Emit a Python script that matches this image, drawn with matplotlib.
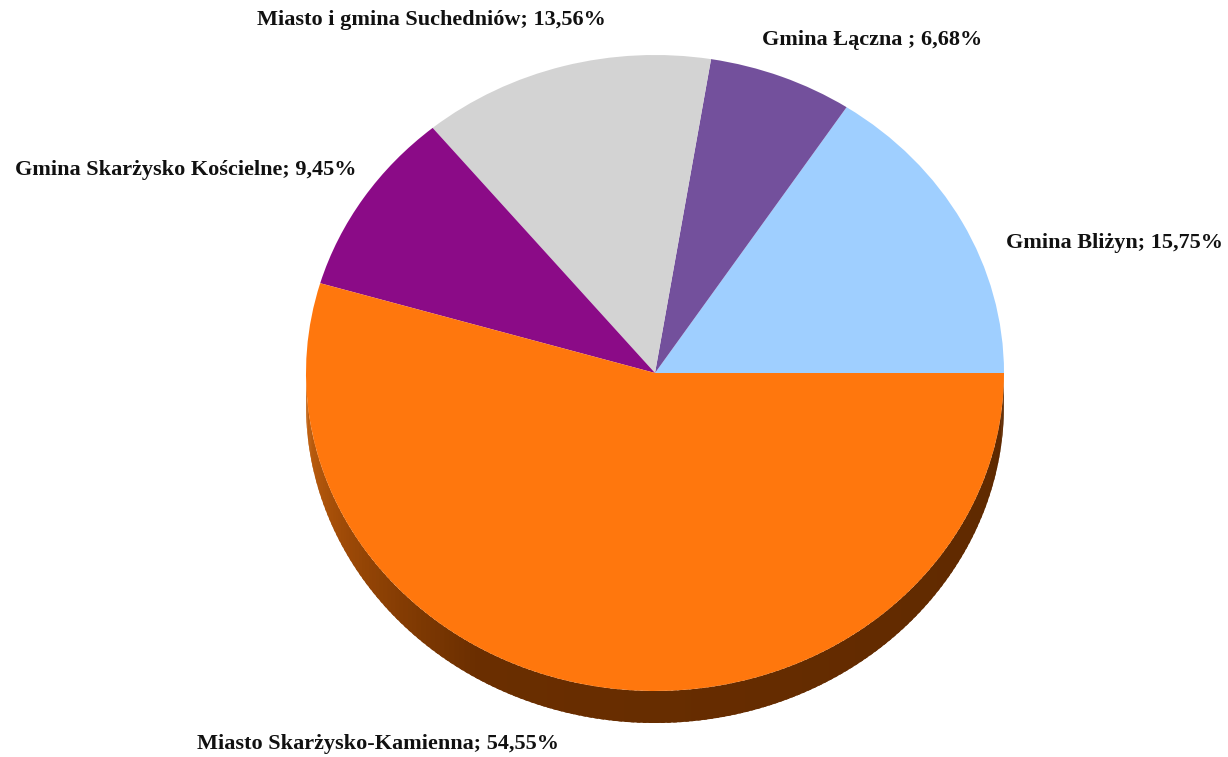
import numpy as np
import matplotlib
matplotlib.use("Agg")
import matplotlib.pyplot as plt
from matplotlib.patches import Polygon
from matplotlib.colors import to_rgb

# ---- data ----
labels = ["Gmina Bliżyn", "Gmina Łączna ", "Miasto i gmina Suchedniów",
          "Gmina Skarżysko Kościelne", "Miasto Skarżysko-Kamienna"]
values = [15.75, 6.68, 13.56, 9.45, 54.55]
value_texts = ["15,75%", "6,68%", "13,56%", "9,45%", "54,55%"]
colors = ["#9FCFFF", "#73509C", "#D3D3D3", "#8B0B87", "#FF770D"]

W, H = 1228, 757
fig = plt.figure(figsize=(W / 100, H / 100), dpi=100)
ax = fig.add_axes([0, 0, 1, 1])
ax.axis("off")

# pixel geometry of the pie
cx, cy = 655, 373          # centre (pixels from top-left)
rx, ry = 349, 318          # radii in px
depth = 32                  # extrusion depth in px

wedges, _ = ax.pie(values, colors=colors, startangle=0, counterclock=True,
                   radius=1, center=(0, 0), wedgeprops=dict(linewidth=0))
for w in wedges:
    w.set_zorder(3)
ax.set_aspect("auto")
ax.set_xlim(-cx / rx, (W - cx) / rx)
ax.set_ylim(-(H - cy) / ry, cy / ry)

# 3D side of the pie (visible lower half, belongs to the big slice)
d = depth / ry
stops = [(180, "#C96511"), (210, "#9A4806"), (240, "#6A2E00"), (360, "#5E2900")]
def side_color(a):
    for (a0, c0), (a1, c1) in zip(stops[:-1], stops[1:]):
        if a0 <= a <= a1:
            t = (a - a0) / (a1 - a0)
            return tuple((1 - t) * np.array(to_rgb(c0)) + t * np.array(to_rgb(c1)))
    return to_rgb(stops[-1][1])

edges = np.linspace(180, 360, 181)
for a0, a1 in zip(edges[:-1], edges[1:]):
    th = np.radians(np.linspace(a0, a1 + 0.6, 4))
    top = np.column_stack([np.cos(th), np.sin(th)])
    bot = top - np.array([0, d])
    poly = Polygon(np.vstack([top, bot[::-1]]), closed=True,
                   facecolor=side_color((a0 + a1) / 2), edgecolor="none", zorder=2)
    ax.add_patch(poly)

# labels (pixel positions of text centres)
label_pos = [(1114, 243), (872, 40), (431, 20), (186, 170), (378, 744)]
font = dict(family="Liberation Serif", fontweight="bold", fontsize=16, color="#111111")
for lab, vt, (px, py) in zip(labels, value_texts, label_pos):
    fig.text(px / W, 1 - py / H, f"{lab}; {vt}", ha="center", va="center", **font)

fig.savefig("out.png", dpi=100)
